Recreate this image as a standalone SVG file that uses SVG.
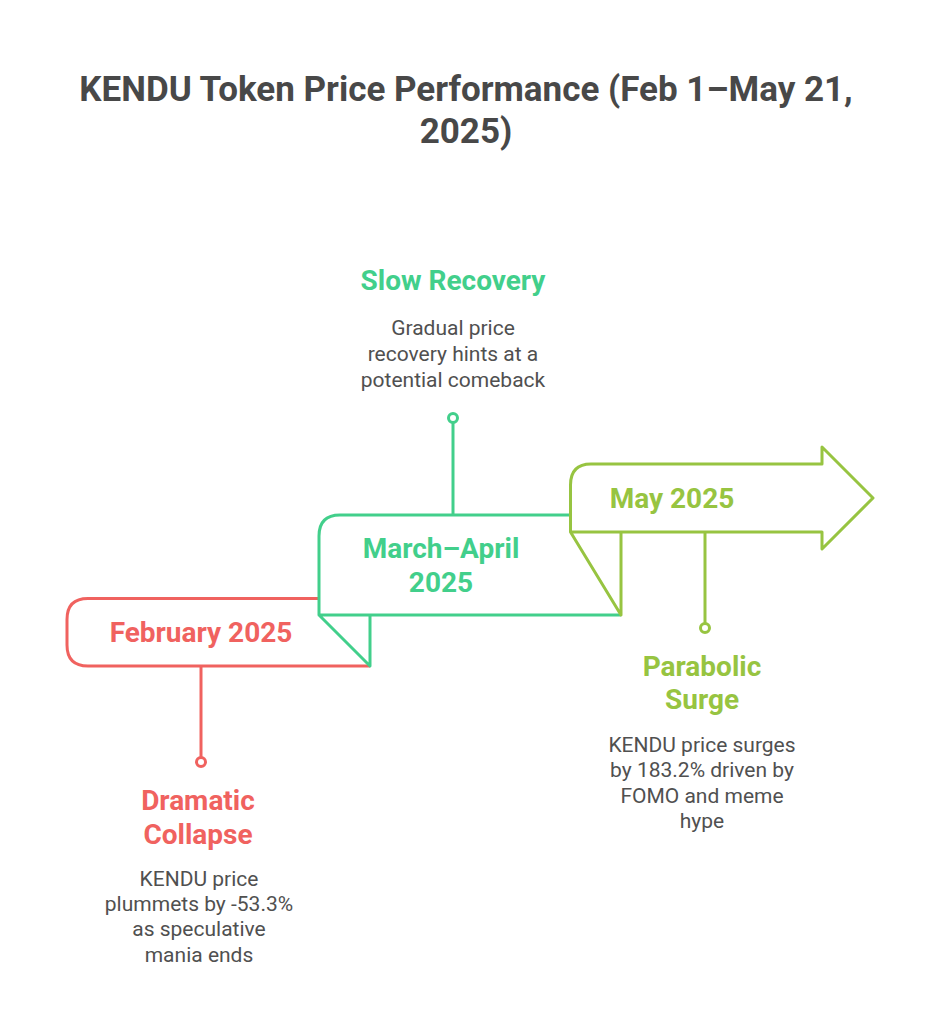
<svg xmlns="http://www.w3.org/2000/svg" width="940" height="1035" viewBox="0 0 940 1035">
<style>
text{font-family:Roboto,"Liberation Sans",sans-serif;text-anchor:middle}
.t{font-size:35px;font-weight:700;fill:#484848}
.h{font-size:28px;font-weight:700}
.b{font-size:21px}
.s{fill:none;stroke-width:3;stroke-linejoin:round}
.red{stroke:#f0625f}.grn{stroke:#42cf8b}.lim{stroke:#97c441}
.r text.h{fill:#f0625f}.g text.h{fill:#42cf8b}.l text.h{fill:#97c441}
text.b{fill:#505050}
</style>
<rect width="940" height="1035" fill="#ffffff"/>
<g id="title"><text class="t" x="466" y="101">KENDU Token Price Performance (Feb 1–May 21,</text><text class="t" x="466" y="143">2025)</text></g>
<g id="connectors">
<path class="s red" d="M201 666V757"/>
<path class="s grn" d="M453 515V423"/>
<path class="s lim" d="M705 532V623"/>
</g>
<g id="feb" class="r">
<path class="s red" d="M319 598.5H88Q67 598.5 67 619.5V645Q67 666 88 666H370"/>
<text class="h" x="201" y="642">February 2025</text>
<circle class="s red" cx="201" cy="762" r="4.5"/>
<text class="h" x="198" y="810">Dramatic</text><text class="h" x="198" y="843.5">Collapse</text>
<text class="b" x="199" y="886">KENDU price</text><text class="b" x="199" y="911">plummets by -53.3%</text><text class="b" x="199" y="936">as speculative</text><text class="b" x="199" y="962">mania ends</text>
</g>
<g id="mar" class="g">
<path class="s grn" d="M570 515H340Q319 515 319 536V615H621M319 615L370 666V615"/>
<text class="h" x="441" y="558">March–April</text><text class="h" x="441" y="592">2025</text>
<circle class="s grn" cx="453" cy="418" r="4.5"/>
<text class="h" x="453" y="289.5">Slow Recovery</text>
<text class="b" x="453" y="335">Gradual price</text><text class="b" x="453" y="361">recovery hints at a</text><text class="b" x="453" y="387">potential comeback</text>
</g>
<g id="may" class="l">
<path class="s lim" d="M570.5 532V485Q570.5 464 591 464H822V447L873 498L822 549V532H570.5L621 615V532"/>
<text class="h" x="672" y="507.5">May 2025</text>
<circle class="s lim" cx="705" cy="628" r="4.5"/>
<text class="h" x="702" y="675.5">Parabolic</text><text class="h" x="702" y="708.5">Surge</text>
<text class="b" x="702" y="752">KENDU price surges</text><text class="b" x="702" y="777">by 183.2% driven by</text><text class="b" x="702" y="803">FOMO and meme</text><text class="b" x="702" y="828">hype</text>
</g>
</svg>
